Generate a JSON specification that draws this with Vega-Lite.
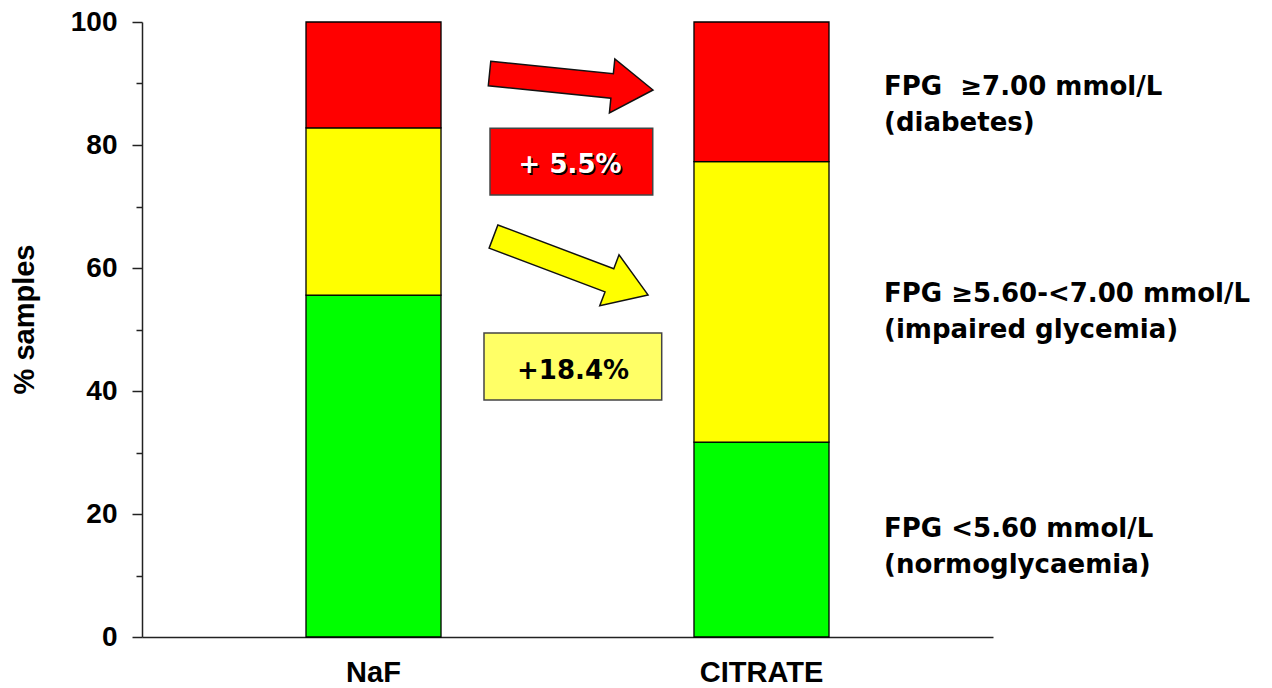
{
  "$schema": "https://vega.github.io/schema/vega-lite/v6.json",
  "width": 851,
  "height": 615,
  "autosize": {"type": "none"},
  "padding": {"left": 142, "top": 22, "right": 279, "bottom": 51},
  "background": "white",
  "config": {"view": {"stroke": null}, "axis": {"grid": false}},
  "datasets": {
    "samples": [
      {"tube": "NaF", "class": "normoglycaemia", "rank": 1, "pct": 55.6},
      {"tube": "NaF", "class": "impaired glycemia", "rank": 2, "pct": 27.2},
      {"tube": "NaF", "class": "diabetes", "rank": 3, "pct": 17.2},
      {"tube": "CITRATE", "class": "normoglycaemia", "rank": 1, "pct": 31.7},
      {"tube": "CITRATE", "class": "impaired glycemia", "rank": 2, "pct": 45.6},
      {"tube": "CITRATE", "class": "diabetes", "rank": 3, "pct": 22.7}
    ],
    "note": [{}]
  },
  "resolve": {"scale": {"x": "independent"}},
  "layer": [
    {
      "data": {"name": "samples"},
      "mark": {"type": "bar", "stroke": "#000000", "strokeWidth": 1.3},
      "encoding": {
        "x": {
          "field": "tube", "type": "nominal", "sort": ["NaF", "CITRATE"],
          "scale": {"paddingInner": 0.652, "paddingOuter": 0.4227},
          "axis": {
            "title": null, "ticks": false, "domainColor": "#222222", "domainWidth": 1.5,
            "labelFont": "Liberation Sans", "labelFontWeight": "bold", "labelFontSize": 29,
            "labelColor": "#000000", "labelAngle": 0, "labelBaseline": "alphabetic", "labelPadding": 44
          }
        },
        "y": {
          "field": "pct", "type": "quantitative", "stack": "zero",
          "scale": {"domain": [0, 100], "nice": false},
          "axis": {
            "title": "% samples",
            "values": [0, 10, 20, 30, 40, 50, 60, 70, 80, 90, 100],
            "labelExpr": "datum.value % 20 === 0 ? datum.label : ''",
            "tickSize": {"condition": {"test": "datum.value % 20 !== 0", "value": 6}, "value": 10},
            "tickColor": "#222222", "tickWidth": 1.5,
            "domainColor": "#222222", "domainWidth": 1.5,
            "labelFont": "Liberation Sans", "labelFontWeight": "bold", "labelFontSize": 28,
            "labelColor": "#000000", "labelPadding": 15, "labelOverlap": false, "labelBound": false,
            "titleFont": "Liberation Sans", "titleFontWeight": "bold", "titleFontSize": 29,
            "titleColor": "#000000", "titleX": -109, "titleY": 297, "titleAngle": 270,
            "titleBaseline": "alphabetic", "titleAlign": "center"
          }
        },
        "color": {
          "field": "class", "type": "nominal",
          "scale": {"domain": ["normoglycaemia", "impaired glycemia", "diabetes"], "range": ["#00FF00", "#FFFF00", "#FF0000"]},
          "legend": null
        },
        "order": {"field": "rank", "type": "quantitative"}
      }
    },
    {
      "data": {"name": "note"},
      "layer": [
        {
          "mark": {"type": "point", "shape": "M -1 -0.15 L 0.5 -0.15 L 0.5 -0.33 L 1 0 L 0.5 0.33 L 0.5 0.15 L -1 0.15 Z", "filled": true, "fill": "#FF0000", "stroke": "#111111", "strokeWidth": 1.5, "opacity": 1, "size": 26990, "angle": 5.76},
          "encoding": {
            "x": {"datum": 1.5097, "type": "quantitative", "scale": {"domain": [0.4034, 2.5966], "nice": false, "zero": false}, "axis": null},
            "y": {"datum": 90.28, "type": "quantitative"}
          }
        },
        {
          "mark": {"type": "point", "shape": "M -1 -0.15 L 0.5 -0.15 L 0.5 -0.33 L 1 0 L 0.5 0.33 L 0.5 0.15 L -1 0.15 Z", "filled": true, "fill": "#FFFF00", "stroke": "#111111", "strokeWidth": 1.5, "opacity": 1, "size": 27290, "angle": 20.7},
          "encoding": {
            "x": {"datum": 1.5084, "type": "quantitative", "scale": {"domain": [0.4034, 2.5966], "nice": false, "zero": false}, "axis": null},
            "y": {"datum": 60.37, "type": "quantitative"}
          }
        },
        {
          "mark": {"type": "rect", "fill": "#FF0000", "stroke": "#444444", "strokeWidth": 1.5},
          "encoding": {
            "x": {"datum": 1.3003, "type": "quantitative", "scale": {"domain": [0.4034, 2.5966], "nice": false, "zero": false}, "axis": null},
            "x2": {"datum": 1.7197},
            "y": {"datum": 82.72, "type": "quantitative"},
            "y2": {"datum": 71.87}
          }
        },
        {
          "mark": {"type": "rect", "fill": "#FFFF66", "stroke": "#444444", "strokeWidth": 1.5},
          "encoding": {
            "x": {"datum": 1.2848, "type": "quantitative", "scale": {"domain": [0.4034, 2.5966], "nice": false, "zero": false}, "axis": null},
            "x2": {"datum": 1.7428},
            "y": {"datum": 49.43, "type": "quantitative"},
            "y2": {"datum": 38.54}
          }
        },
        {
          "mark": {"type": "text", "text": "+ 5.5%", "font": "DejaVu Sans", "fontWeight": "bold", "fontSize": 26, "fill": "#000000", "align": "center", "baseline": "alphabetic", "dx": 1.5, "dy": 1.5},
          "encoding": {
            "x": {"datum": 1.5066, "type": "quantitative", "scale": {"domain": [0.4034, 2.5966], "nice": false, "zero": false}, "axis": null},
            "y": {"datum": 75.37, "type": "quantitative"}
          }
        },
        {
          "mark": {"type": "text", "text": "+ 5.5%", "font": "DejaVu Sans", "fontWeight": "bold", "fontSize": 26, "fill": "#FFFFFF", "align": "center", "baseline": "alphabetic"},
          "encoding": {
            "x": {"datum": 1.5066, "type": "quantitative", "scale": {"domain": [0.4034, 2.5966], "nice": false, "zero": false}, "axis": null},
            "y": {"datum": 75.37, "type": "quantitative"}
          }
        },
        {
          "mark": {"type": "text", "text": "+18.4%", "font": "DejaVu Sans", "fontWeight": "bold", "fontSize": 26, "fill": "#000000", "align": "center", "baseline": "alphabetic"},
          "encoding": {
            "x": {"datum": 1.5143, "type": "quantitative", "scale": {"domain": [0.4034, 2.5966], "nice": false, "zero": false}, "axis": null},
            "y": {"datum": 42.03, "type": "quantitative"}
          }
        },
        {
          "mark": {"type": "text", "text": ["FPG\u00a0 ≥7.00 mmol/L", "(diabetes)"], "font": "DejaVu Sans", "fontWeight": "bold", "fontSize": 26, "lineHeight": 36, "fill": "#000000", "align": "left", "baseline": "alphabetic"},
          "encoding": {
            "x": {"datum": 2.3158, "type": "quantitative", "scale": {"domain": [0.4034, 2.5966], "nice": false, "zero": false}, "axis": null},
            "y": {"datum": 88.13, "type": "quantitative"}
          }
        },
        {
          "mark": {"type": "text", "text": ["FPG ≥5.60-<7.00 mmol/L", "(impaired glycemia)"], "font": "DejaVu Sans", "fontWeight": "bold", "fontSize": 26, "lineHeight": 36, "fill": "#000000", "align": "left", "baseline": "alphabetic"},
          "encoding": {
            "x": {"datum": 2.3158, "type": "quantitative", "scale": {"domain": [0.4034, 2.5966], "nice": false, "zero": false}, "axis": null},
            "y": {"datum": 54.47, "type": "quantitative"}
          }
        },
        {
          "mark": {"type": "text", "text": ["FPG <5.60 mmol/L", "(normoglycaemia)"], "font": "DejaVu Sans", "fontWeight": "bold", "fontSize": 26, "lineHeight": 36, "fill": "#000000", "align": "left", "baseline": "alphabetic"},
          "encoding": {
            "x": {"datum": 2.3158, "type": "quantitative", "scale": {"domain": [0.4034, 2.5966], "nice": false, "zero": false}, "axis": null},
            "y": {"datum": 16.26, "type": "quantitative"}
          }
        }
      ]
    }
  ]
}
